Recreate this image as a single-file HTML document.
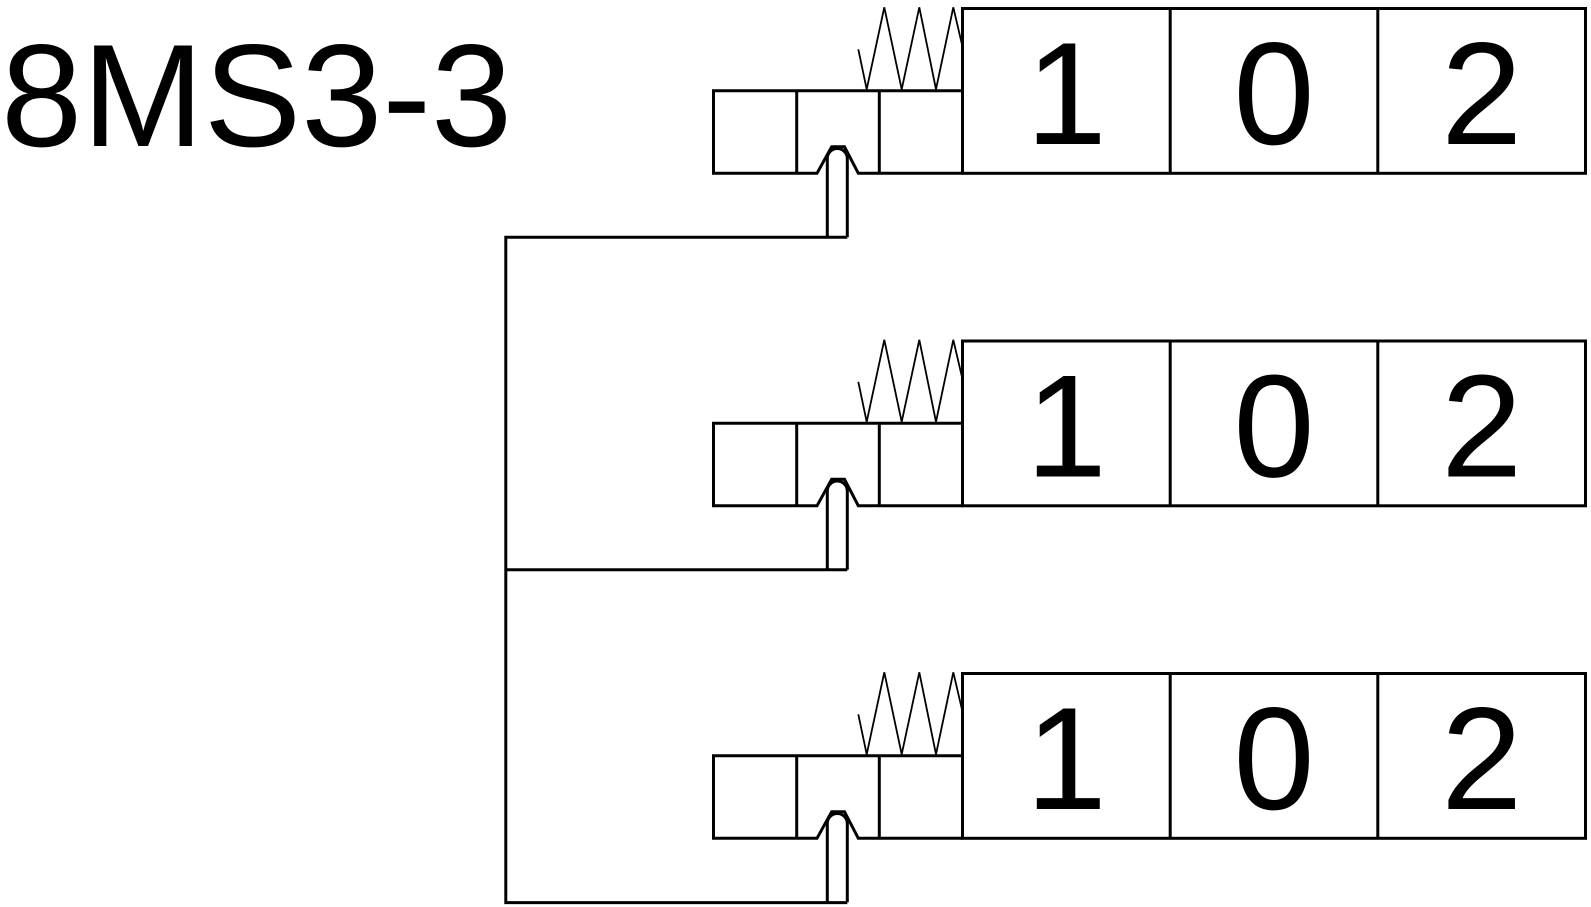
<!DOCTYPE html>
<html>
<head>
<meta charset="utf-8">
<style>
  html, body { margin: 0; padding: 0; background: #ffffff; }
  body { width: 1591px; height: 907px; overflow: hidden; }
  svg { display: block; }
  text { font-family: "Liberation Sans", Arial, sans-serif; fill: #000; }
</style>
</head>
<body>
<svg width="1591" height="907" viewBox="0 0 1591 907" xmlns="http://www.w3.org/2000/svg">
  <defs>
    <g id="blk">
      <!-- big box with 3 cells -->
      <rect x="962.5" y="8.5" width="623" height="164.8" fill="none" stroke="#000" stroke-width="3"/>
      <line x1="1170.2" y1="8.5" x2="1170.2" y2="173.3" stroke="#000" stroke-width="3"/>
      <line x1="1377.8" y1="8.5" x2="1377.8" y2="173.3" stroke="#000" stroke-width="3"/>
      <!-- small boxes -->
      <polyline points="962.5,90.7 713.5,90.7 713.5,173.3 817,173.3 831.7,146.7 844.5,146.7 858.3,173.3 962.5,173.3" fill="none" stroke="#000" stroke-width="3" stroke-linejoin="miter"/>
      <line x1="796.7" y1="90.7" x2="796.7" y2="173.3" stroke="#000" stroke-width="3"/>
      <line x1="879.3" y1="90.7" x2="879.3" y2="173.3" stroke="#000" stroke-width="3"/>
      <!-- stem -->
      <path d="M827.3,237.3 L827.3,158.5 A10,10 0 0 1 847.3,158.5 L847.3,237.3" fill="none" stroke="#000" stroke-width="3"/>
      <!-- spring -->
      <polyline points="858.3,49.3 866.7,89.3 884.3,7.3 901.7,89.3 919.3,7.3 936,89.3 953.3,7.3 962.5,46.7" fill="none" stroke="#000" stroke-width="1.8" stroke-linejoin="miter"/>
      <!-- digits -->
      <text x="1066.3" y="144" font-size="146" text-anchor="middle">1</text>
      <text x="1274" y="144" font-size="146" text-anchor="middle">0</text>
      <text x="1481.7" y="144" font-size="146" text-anchor="middle">2</text>
    </g>
  </defs>

  <text x="1" y="146" font-size="146">8MS3-3</text>

  <use href="#blk" x="0" y="0"/>
  <use href="#blk" x="0" y="332.5"/>
  <use href="#blk" x="0" y="665"/>

  <!-- connectors -->
  <polyline points="847.3,237.3 505.8,237.3 505.8,902.6 847.3,902.6" fill="none" stroke="#000" stroke-width="3"/>
  <line x1="505.8" y1="569.8" x2="847.3" y2="569.8" stroke="#000" stroke-width="3"/>
</svg>
</body>
</html>
